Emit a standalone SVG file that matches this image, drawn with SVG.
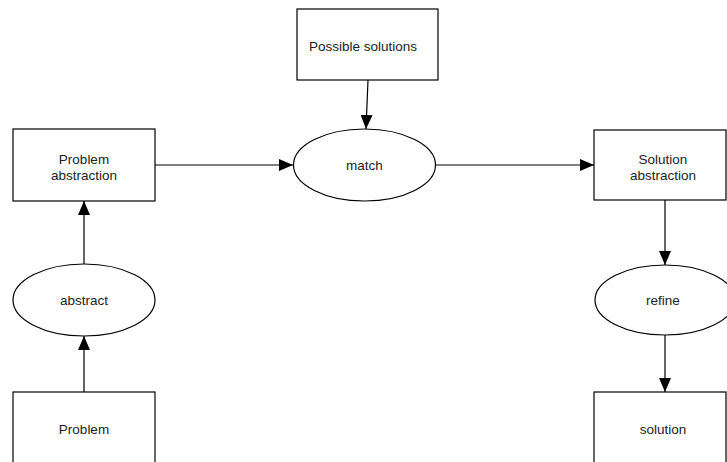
<svg xmlns="http://www.w3.org/2000/svg" width="727" height="462" viewBox="0 0 727 462">
<style>
.n{fill:#fff;stroke:#000;stroke-width:1.2}
.t{font-family:"Liberation Sans",Arial,sans-serif;font-size:13.5px;fill:#222;text-anchor:middle}
.c{stroke:#000;stroke-width:1.2;fill:none}
</style>
<defs>
<marker id="ah" markerWidth="14" markerHeight="12" refX="14" refY="6" orient="auto" markerUnits="userSpaceOnUse">
<path d="M0,0 L14,6 L0,12 Z" fill="#000"/>
</marker>
</defs>
<rect width="727" height="462" fill="#fff"/>
<g id="connectors">
<line class="c" x1="84" y1="392" x2="84" y2="336" marker-end="url(#ah)"/>
<line class="c" x1="84" y1="264" x2="84" y2="201" marker-end="url(#ah)"/>
<line class="c" x1="155" y1="165" x2="293" y2="165" marker-end="url(#ah)"/>
<line class="c" x1="368" y1="80" x2="366" y2="129" marker-end="url(#ah)"/>
<line class="c" x1="436" y1="165" x2="594" y2="165" marker-end="url(#ah)"/>
<line class="c" x1="665" y1="200" x2="665" y2="265" marker-end="url(#ah)"/>
<line class="c" x1="665" y1="335" x2="665" y2="392" marker-end="url(#ah)"/>
</g>
<g id="problem-abstraction">
<rect class="n" x="13" y="129" width="142" height="72"/>
<text class="t" x="84" y="164">Problem</text>
<text class="t" x="84" y="180">abstraction</text>
</g>
<g id="abstract">
<ellipse class="n" cx="84" cy="300" rx="71" ry="36"/>
<text class="t" x="84" y="305">abstract</text>
</g>
<g id="problem">
<rect class="n" x="13" y="392" width="142" height="72"/>
<text class="t" x="84" y="434">Problem</text>
</g>
<g id="possible-solutions">
<rect class="n" x="297" y="9" width="141" height="71"/>
<text class="t" x="363" y="51">Possible solutions</text>
</g>
<g id="match">
<ellipse class="n" cx="364.5" cy="165" rx="71" ry="36"/>
<text class="t" x="364.5" y="170">match</text>
</g>
<g id="solution-abstraction">
<rect class="n" x="594" y="130" width="132" height="70"/>
<text class="t" x="663" y="164">Solution</text>
<text class="t" x="663" y="180">abstraction</text>
</g>
<g id="refine">
<ellipse class="n" cx="665" cy="300" rx="70" ry="35"/>
<text class="t" x="663" y="305">refine</text>
</g>
<g id="solution">
<rect class="n" x="594" y="392" width="132" height="72"/>
<text class="t" x="663" y="434">solution</text>
</g>
</svg>
